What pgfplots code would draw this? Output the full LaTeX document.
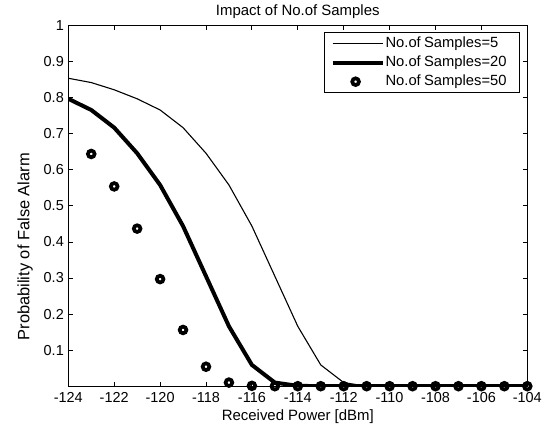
\documentclass[border=0pt]{standalone}
\usepackage{pgfplots}
\pgfplotsset{compat=1.18}
\usepackage{fontspec}
\setmainfont{Liberation Sans}
\newcommand\lgf{\fontsize{14.8}{17}\selectfont}
\begin{document}
\begin{tikzpicture}
\begin{axis}[
  scale only axis,
  width=459bp, height=360.6bp,
  xmin=-124, xmax=-104, ymin=0, ymax=1,
  xtick={-124,-122,-120,-118,-116,-114,-112,-110,-108,-106,-104},
  xticklabels={-124,-122,-120,-118,-116,-114,-112,-110,-108,-106,-104},
  ytick={0.1,0.2,0.3,0.4,0.5,0.6,0.7,0.8,0.9,1},
  yticklabels={0.1,0.2,0.3,0.4,0.5,0.6,0.7,0.8,0.9,1},
  tick align=inside,
  major tick length=4.7bp,
  axis line style={line width=0.9bp},
  every tick/.style={black, line width=0.9bp},
  xticklabel style={font=\fontsize{14.5}{17}\selectfont, anchor=base, inner sep=0pt, yshift=-16.5bp},
  yticklabel style={font=\fontsize{14.5}{17}\selectfont, anchor=east, inner sep=0pt, xshift=-4.3bp},
  every axis title shift=0pt,
  title={Impact of No.of Samples},
  title style={at={(axis description cs:0.5,1.0286)}, anchor=base, inner sep=0pt, font=\fontsize{15}{18}\selectfont},
  xlabel={Received Power [dBm]},
  xlabel style={at={(axis description cs:0.5,-0.0965)}, anchor=base, inner sep=0pt, font=\fontsize{15}{18}\selectfont},
  ylabel={Probability of False Alarm},
  ylabel style={at={(axis description cs:-0.08497,0.3868)}, anchor=base, inner sep=0pt, font=\fontsize{16.5}{19}\selectfont},
  legend cell align=left,
  legend style={at={(axis description cs:1,1)}, anchor=north east, xshift=-7.3bp, yshift=-6.7bp,
    draw=black, line width=0.8bp, inner xsep=0pt, inner ysep=4bp, row sep=5bp, column sep=0pt,
    nodes={inner sep=0pt, text height=11bp, text depth=3bp, text width=134bp, align=left, anchor=west}},
]
\addplot[black, line width=1.1bp, line join=round,
  legend image code/.code={\path[draw=none] (0bp,-1bp) rectangle (61bp,1bp); \draw[black, line width=1.1bp] (8bp,0bp) -- (58bp,0bp);}]
coordinates {
(-124,0.854) (-123,0.842) (-122,0.822) (-121,0.797) (-120,0.766) (-119,0.717)
(-118,0.646) (-117,0.558) (-116,0.444) (-115,0.305) (-114,0.166) (-113,0.059)
(-112,0.010) (-111,0) (-110,0) (-109,0) (-108,0) (-107,0) (-106,0) (-105,0) (-104,0)
};
\addlegendentry{\lgf No.of Samples=5}
\addplot[black, line width=4bp, line join=round,
  legend image code/.code={\path[draw=none] (0bp,-1bp) rectangle (61bp,1bp); \draw[black, line width=4bp] (8bp,0bp) -- (58bp,0bp);}]
coordinates {
(-124,0.797) (-123,0.766) (-122,0.717) (-121,0.646) (-120,0.558) (-119,0.444)
(-118,0.305) (-117,0.166) (-116,0.059) (-115,0.010) (-114,0.001) (-113,0)
(-112,0) (-111,0) (-110,0) (-109,0) (-108,0) (-107,0) (-106,0) (-105,0) (-104,0)
};
\addlegendentry{\lgf No.of Samples=20}
\addplot[black, only marks, mark=o, mark size=3.35bp, mark options={line width=3.7bp},
  legend image code/.code={\path[draw=none] (0bp,-1bp) rectangle (61bp,1bp); \draw[black, line width=3.7bp] (31bp,0bp) circle[radius=3.35bp];}]
coordinates {
(-123,0.644) (-122,0.554) (-121,0.437) (-120,0.297) (-119,0.156) (-118,0.054)
(-117,0.010) (-116,0.001) (-115,0) (-114,0) (-113,0) (-112,0) (-111,0) (-110,0)
(-109,0) (-108,0) (-107,0) (-106,0) (-105,0) (-104,0)
};
\addlegendentry{\lgf No.of Samples=50}
\end{axis}
\pgfresetboundingbox
\useasboundingbox (current axis.south west) ++(-68.3bp,-40.8bp) rectangle ++(546bp,427bp);
\end{tikzpicture}
\end{document}
